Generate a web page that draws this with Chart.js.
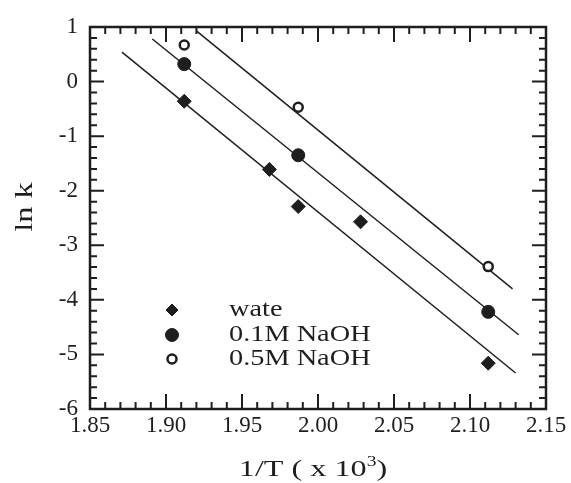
<!DOCTYPE html>
<html>
<head>
<meta charset="utf-8">
<script src="https://cdn.jsdelivr.net/npm/chart.js@4"></script>
<style>
html,body{margin:0;padding:0;background:#fff;}
canvas{display:block;}
</style>
</head>
<body>
<canvas id="c" width="571" height="483"></canvas>
<script>
// ---- data ----
const xTicks = [1.85, 1.90, 1.95, 2.00, 2.05, 2.10, 2.15];
const yTicks = [-6, -5, -4, -3, -2, -1, 0, 1];

const seriesNames = ['wate', '0.1M NaOH', '0.5M NaOH'];

const waterX = [1.912, 1.968, 1.987, 2.028, 2.112];
const waterY = [-0.36, -1.61, -2.29, -2.57, -5.16];

const naoh01X = [1.912, 1.987, 2.112];
const naoh01Y = [0.32, -1.35, -4.22];

const naoh05X = [1.912, 1.987, 2.112];
const naoh05Y = [0.67, -0.47, -3.39];

// fitted lines (end points)
const waterFitX = [1.871, 2.130];
const waterFitY = [0.54, -5.34];
const naoh01FitX = [1.891, 2.132];
const naoh01FitY = [0.78, -4.64];
const naoh05FitX = [1.920, 2.128];
const naoh05FitY = [0.93, -3.80];

const xTitle = '1/T ( x 10';
const xTitleSup = '3';
const xTitleEnd = ')';
const yTitle = 'ln k';

// ---- build ----
const ink = '#1e1e1e';
const pts = (xs, ys) => xs.map((x, i) => ({x: x, y: ys[i]}));
const FONT = "'Liberation Serif', 'Times New Roman', serif";

const pointStyles = [
  {pointStyle: 'rectRot', radius: 7, backgroundColor: ink, borderColor: ink, borderWidth: 1},
  {pointStyle: 'circle', radius: 6.5, backgroundColor: ink, borderColor: ink, borderWidth: 1},
  {pointStyle: 'circle', radius: 4.5, backgroundColor: '#fff', borderColor: ink, borderWidth: 2.5}
];

const fitLine = (xs, ys) => ({
  data: pts(xs, ys), showLine: true, pointRadius: 0, borderColor: ink,
  borderWidth: 1.5, fill: false
});
const scatterSet = (name, xs, ys, st) => ({
  label: name, data: pts(xs, ys), showLine: false,
  pointStyle: st.pointStyle, pointRadius: st.radius, pointBackgroundColor: st.backgroundColor,
  pointBorderColor: st.borderColor, pointBorderWidth: st.borderWidth
});

const frameTicks = {
  id: 'frameTicks',
  afterDraw(chart) {
    const ctx = chart.ctx, a = chart.chartArea;
    const xs = chart.scales.x, ys = chart.scales.y;
    ctx.save();
    ctx.strokeStyle = ink;
    ctx.lineWidth = 2;
    // x minor/major ticks every 0.01
    for (let i = 0; i <= 30; i++) {
      const v = xs.min + i * 0.01;
      const px = xs.getPixelForValue(v);
      const len = (i % 5 === 0) ? 15 : 7;
      ctx.beginPath();
      ctx.moveTo(px, a.bottom); ctx.lineTo(px, a.bottom - len);
      ctx.moveTo(px, a.top); ctx.lineTo(px, a.top + len);
      ctx.stroke();
    }
    // y ticks every 0.2
    for (let i = 0; i <= 35; i++) {
      const v = ys.min + i * 0.2;
      const py = ys.getPixelForValue(v);
      const len = (i % 5 === 0) ? 14 : 7;
      ctx.beginPath();
      ctx.moveTo(a.left, py); ctx.lineTo(a.left + len, py);
      ctx.moveTo(a.right, py); ctx.lineTo(a.right - len, py);
      ctx.stroke();
    }
    ctx.lineWidth = 2.5;
    ctx.strokeRect(a.left, a.top, a.right - a.left, a.bottom - a.top);

    // axis titles
    ctx.fillStyle = ink;
    ctx.textBaseline = 'alphabetic';
    // x title
    ctx.font = '23px ' + FONT;
    const sx = 1.4;
    const w1 = ctx.measureText(xTitle).width;
    ctx.font = '14px ' + FONT;
    const w2 = ctx.measureText(xTitleSup).width;
    ctx.font = '23px ' + FONT;
    const w3 = ctx.measureText(xTitleEnd).width;
    const total = (w1 + w2 + w3) * sx;
    const cx = 313;
    ctx.save();
    ctx.translate(cx - total / 2, 476);
    ctx.scale(sx, 1);
    ctx.textAlign = 'left';
    ctx.fillText(xTitle, 0, 0);
    ctx.font = '14px ' + FONT;
    ctx.fillText(xTitleSup, w1, -10);
    ctx.font = '23px ' + FONT;
    ctx.fillText(xTitleEnd, w1 + w2, 0);
    ctx.restore();
    // y title
    ctx.save();
    ctx.translate(32, 207);
    ctx.rotate(-Math.PI / 2);
    ctx.scale(1.3, 1);
    ctx.font = '25px ' + FONT;
    ctx.textAlign = 'center';
    ctx.fillText(yTitle, 0, 0);
    ctx.restore();

    // legend inside plot
    const rows = [310, 335, 359];
    seriesNames.forEach((name, i) => {
      const st = pointStyles[i];
      ctx.fillStyle = st.backgroundColor;
      ctx.strokeStyle = st.borderColor;
      ctx.lineWidth = st.borderWidth;
      Chart.helpers.drawPoint(ctx, {pointStyle: st.pointStyle, radius: i === 0 ? 6 : st.radius, rotation: 0, borderWidth: st.borderWidth}, 172, rows[i]);
      ctx.save();
      ctx.fillStyle = ink;
      ctx.font = '24px ' + FONT;
      ctx.textAlign = 'left';
      ctx.textBaseline = 'middle';
      ctx.translate(229, rows[i]);
      ctx.scale(1.18, 1);
      ctx.fillText(name, 0, 0);
      ctx.restore();
    });
    ctx.restore();
  }
};

new Chart(document.getElementById('c'), {
  type: 'scatter',
  data: {
    datasets: [
      scatterSet(seriesNames[0], waterX, waterY, pointStyles[0]),
      scatterSet(seriesNames[1], naoh01X, naoh01Y, pointStyles[1]),
      scatterSet(seriesNames[2], naoh05X, naoh05Y, pointStyles[2]),
      fitLine(waterFitX, waterFitY),
      fitLine(naoh01FitX, naoh01FitY),
      fitLine(naoh05FitX, naoh05FitY)
    ]
  },
  options: {
    responsive: false,
    animation: false,
    layout: {padding: {left: 0, right: 25, top: 27, bottom: 0}},
    plugins: {legend: {display: false}, tooltip: {enabled: false}},
    scales: {
      x: {
        type: 'linear', min: 1.85, max: 2.15,
        grid: {display: false, drawTicks: false},
        border: {display: false},
        afterBuildTicks: s => { s.ticks = xTicks.map(v => ({value: v})); },
        afterFit: s => { s.height = 74; },
        ticks: {
          color: ink, padding: 3, maxRotation: 0, autoSkip: false,
          font: {family: FONT, size: 23},
          callback: v => Number(v).toFixed(2)
        }
      },
      y: {
        type: 'linear', min: -6, max: 1,
        grid: {display: false, drawTicks: false},
        border: {display: false},
        afterBuildTicks: s => { s.ticks = yTicks.map(v => ({value: v})); },
        afterFit: s => { s.width = 90; },
        ticks: {
          color: ink, padding: 12, autoSkip: false,
          font: {family: FONT, size: 23},
          callback: v => String(v)
        }
      }
    }
  },
  plugins: [frameTicks]
});
</script>
</body>
</html>
